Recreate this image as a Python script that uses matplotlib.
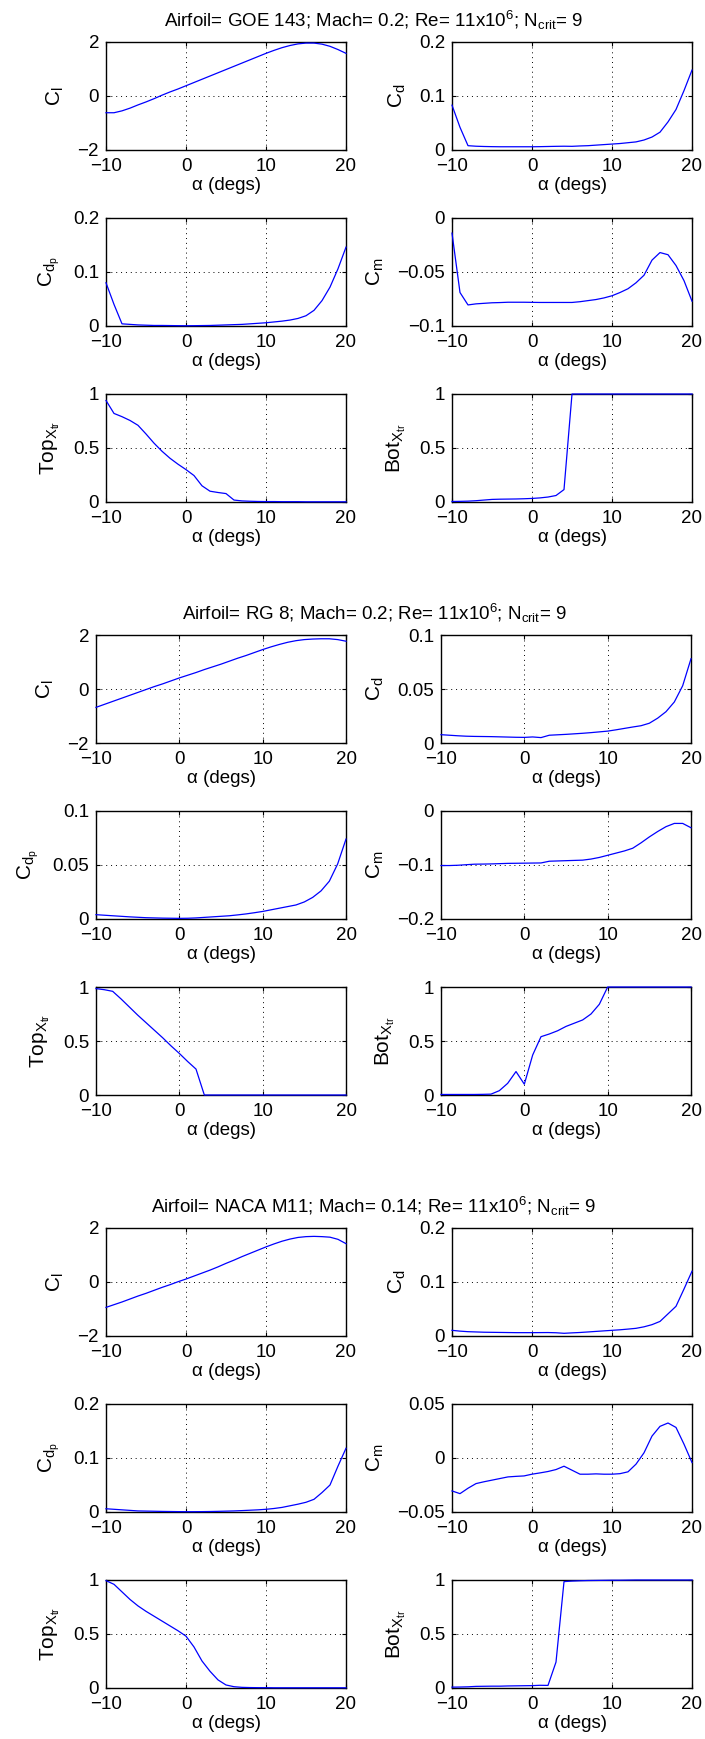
import numpy as np
import matplotlib
matplotlib.use("Agg")
import matplotlib.pyplot as plt
from matplotlib.ticker import FuncFormatter

plt.rcParams['font.family'] = ['Liberation Sans', 'DejaVu Sans']
plt.rcParams['mathtext.fontset'] = 'custom'
plt.rcParams['mathtext.rm'] = 'Liberation Sans'
plt.rcParams['mathtext.it'] = 'Liberation Sans:italic'

alpha = list(range(-10, 21))

# ---- GOE 143 ----
goe_title = r'Airfoil= GOE 143; Mach= 0.2; Re= 11x10$^6$; N$_{\mathrm{crit}}$= 9'
goe_cl = [-0.62, -0.62, -0.55, -0.45, -0.33, -0.22, -0.10, 0.03, 0.15, 0.26, 0.38,
          0.50, 0.62, 0.74, 0.86, 0.98, 1.10, 1.22, 1.34, 1.46, 1.58,
          1.69, 1.79, 1.87, 1.93, 1.96, 1.96, 1.92, 1.84, 1.72, 1.58]
goe_cd = [0.083, 0.042, 0.008, 0.007, 0.0065, 0.0062, 0.006, 0.006, 0.006, 0.006, 0.006,
          0.0062, 0.0065, 0.0068, 0.007, 0.0068, 0.0075, 0.008, 0.009, 0.010, 0.011,
          0.012, 0.0135, 0.015, 0.0185, 0.024, 0.033, 0.052, 0.075, 0.110, 0.148]
goe_cdp = [0.080, 0.040, 0.004, 0.003, 0.002, 0.0015, 0.001, 0.001, 0.0008, 0.0006, 0.0005,
           0.0006, 0.0008, 0.001, 0.0015, 0.002, 0.0025, 0.003, 0.004, 0.005, 0.006,
           0.0075, 0.009, 0.011, 0.014, 0.019, 0.029, 0.047, 0.072, 0.106, 0.146]
goe_cm = [-0.014, -0.069, -0.0805, -0.0795, -0.079, -0.0785, -0.0783, -0.078, -0.078, -0.078, -0.0781,
          -0.0782, -0.0782, -0.0782, -0.0782, -0.0782, -0.0775, -0.0765, -0.0755, -0.074, -0.072,
          -0.069, -0.0655, -0.060, -0.053, -0.039, -0.032, -0.034, -0.044, -0.058, -0.077]
goe_top = [0.94, 0.82, 0.79, 0.755, 0.71, 0.63, 0.545, 0.47, 0.405, 0.35, 0.30,
           0.245, 0.15, 0.10, 0.088, 0.078, 0.018, 0.01, 0.007, 0.005, 0.004,
           0.004, 0.003, 0.003, 0.003, 0.002, 0.002, 0.002, 0.002, 0.002, 0.002]
goe_bot = [0.005, 0.006, 0.008, 0.012, 0.018, 0.024, 0.026, 0.027, 0.028, 0.03, 0.033,
           0.038, 0.046, 0.06, 0.115, 1, 1, 1, 1, 1, 1,
           1, 1, 1, 1, 1, 1, 1, 1, 1, 1]

# ---- RG 8 ----
rg_title = r'Airfoil= RG 8; Mach= 0.2; Re= 11x10$^6$; N$_{\mathrm{crit}}$= 9'
rg_cl = [-0.68, -0.57, -0.46, -0.35, -0.24, -0.13, -0.02, 0.09, 0.19, 0.30, 0.41,
         0.51, 0.61, 0.72, 0.82, 0.92, 1.03, 1.14, 1.24, 1.35, 1.46,
         1.56, 1.65, 1.73, 1.79, 1.83, 1.85, 1.86, 1.86, 1.83, 1.77]
rg_cd = [0.0077, 0.0072, 0.0067, 0.0063, 0.0061, 0.006, 0.0059, 0.0057, 0.0055, 0.0053, 0.0052,
         0.0056, 0.0050, 0.0072, 0.0076, 0.0080, 0.0085, 0.009, 0.0096, 0.0103, 0.011,
         0.0122, 0.0135, 0.0148, 0.016, 0.0183, 0.023, 0.029, 0.038, 0.053, 0.078]
rg_cdp = [0.004, 0.0035, 0.003, 0.0025, 0.002, 0.0016, 0.0012, 0.001, 0.0008, 0.0007, 0.0006,
          0.0007, 0.001, 0.0015, 0.002, 0.0025, 0.003, 0.0038, 0.0047, 0.0058, 0.007,
          0.0085, 0.010, 0.0115, 0.013, 0.0158, 0.020, 0.026, 0.035, 0.051, 0.074]
rg_cm = [-0.101, -0.101, -0.1005, -0.0995, -0.0985, -0.0983, -0.098, -0.0975, -0.097, -0.0968, -0.0966,
         -0.0964, -0.0962, -0.093, -0.0925, -0.092, -0.0915, -0.091, -0.089, -0.086, -0.082,
         -0.078, -0.074, -0.069, -0.059, -0.048, -0.038, -0.029, -0.023, -0.023, -0.031]
rg_top = [0.985, 0.975, 0.96, 0.89, 0.815, 0.74, 0.67, 0.60, 0.53, 0.455, 0.385,
          0.31, 0.24, 0, 0, 0, 0, 0, 0, 0, 0,
          0, 0, 0, 0, 0, 0, 0, 0, 0, 0]
rg_bot = [0.005, 0.005, 0.005, 0.005, 0.005, 0.006, 0.008, 0.04, 0.108, 0.217, 0.10,
          0.37, 0.54, 0.565, 0.595, 0.635, 0.665, 0.695, 0.75, 0.84, 1.0,
          1, 1, 1, 1, 1, 1, 1, 1, 1, 1]

# ---- NACA M11 ----
m11_title = r'Airfoil= NACA M11; Mach= 0.14; Re= 11x10$^6$; N$_{\mathrm{crit}}$= 9'
m11_cl = [-0.94, -0.84, -0.74, -0.63, -0.52, -0.42, -0.31, -0.20, -0.10, 0.01, 0.11,
          0.22, 0.33, 0.44, 0.56, 0.69, 0.81, 0.94, 1.06, 1.18, 1.30,
          1.41, 1.51, 1.59, 1.65, 1.68, 1.69, 1.68, 1.66, 1.58, 1.42]
m11_cd = [0.0105, 0.009, 0.008, 0.0075, 0.007, 0.0068, 0.0066, 0.0064, 0.0062, 0.0062, 0.0062,
          0.0063, 0.0064, 0.006, 0.005, 0.0058, 0.0065, 0.0075, 0.0085, 0.0095, 0.0105,
          0.0115, 0.0128, 0.0142, 0.017, 0.021, 0.027, 0.041, 0.055, 0.087, 0.12]
m11_cdp = [0.006, 0.005, 0.004, 0.003, 0.002, 0.0017, 0.0014, 0.0011, 0.0009, 0.0007, 0.0006,
           0.0006, 0.0007, 0.0009, 0.0012, 0.0016, 0.002, 0.0026, 0.0033, 0.004, 0.005,
           0.0065, 0.0085, 0.0115, 0.0145, 0.018, 0.0235, 0.036, 0.05, 0.085, 0.118]
m11_cm = [-0.0305, -0.033, -0.028, -0.0237, -0.022, -0.0205, -0.019, -0.0175, -0.017, -0.0166, -0.015,
          -0.0138, -0.0125, -0.0107, -0.0076, -0.0113, -0.015, -0.015, -0.0147, -0.015, -0.015,
          -0.0145, -0.0128, -0.0057, 0.0048, 0.0203, 0.0293, 0.0324, 0.0283, 0.0128, -0.0042]
m11_top = [0.994, 0.96, 0.89, 0.82, 0.76, 0.71, 0.665, 0.62, 0.575, 0.53, 0.48,
           0.38, 0.25, 0.155, 0.075, 0.028, 0.012, 0.006, 0.004, 0.003, 0.003,
           0.002, 0.002, 0.002, 0.002, 0.002, 0.002, 0.002, 0.002, 0.002, 0.002]
m11_bot = [0.008, 0.009, 0.011, 0.015, 0.016, 0.017, 0.017, 0.019, 0.020, 0.021, 0.022,
           0.025, 0.024, 0.24, 0.985, 0.99, 0.993, 0.995, 0.996, 0.997, 0.998,
           0.998, 0.999, 1, 1, 1, 1, 1, 1, 1, 1]

ylabels = [r'$\mathrm{C_l}$', r'$\mathrm{C_d}$', r'$\mathrm{C_{d_p}}$', r'$\mathrm{C_m}$',
           r'$\mathrm{Top_{X_{tr}}}$', r'$\mathrm{Bot_{X_{tr}}}$']

blocks = [
    (goe_title, [goe_cl, goe_cd, goe_cdp, goe_cm, goe_top, goe_bot],
     [(-2, 2), (0, 0.2), (0, 0.2), (-0.1, 0), (0, 1), (0, 1)], (106, 452, 240)),
    (rg_title, [rg_cl, rg_cd, rg_cdp, rg_cm, rg_top, rg_bot],
     [(-2, 2), (0, 0.1), (0, 0.1), (-0.2, 0), (0, 1), (0, 1)], (96, 441, 250)),
    (m11_title, [m11_cl, m11_cd, m11_cdp, m11_cm, m11_top, m11_bot],
     [(-2, 2), (0, 0.2), (0, 0.2), (-0.05, 0.05), (0, 1), (0, 1)], (106, 452, 240)),
]

W, H = 705, 1739
fig = plt.figure(figsize=(W / 100, H / 100), dpi=100)

fmt = FuncFormatter(lambda v, p: ('%g' % round(v, 6)).replace('-', '\u2212'))

for k, (title, series, lims, (xl, xr, w)) in enumerate(blocks):
    off = 593 * k
    fig.text(374 / W, 1 - (27 + off) / H, title, ha='center', va='baseline', fontsize=13.5)
    for i in range(6):
        row, col = i // 2, i % 2
        top = 42 + 176 * row + off
        left = xl if col == 0 else xr
        ax = fig.add_axes([left / W, 1 - (top + 108) / H, w / W, 108 / H])
        ax.plot(alpha, series[i], color='blue', lw=0.9, zorder=3, clip_on=False)
        lo, hi = lims[i]
        ax.set_xlim(-10, 20)
        ax.set_ylim(lo, hi)
        ax.set_xticks([-10, 0, 10, 20])
        ax.set_yticks([lo, (lo + hi) / 2, hi])
        ax.xaxis.set_major_formatter(fmt)
        ax.yaxis.set_major_formatter(fmt)
        ax.grid(True, color='black', linestyle=(0, (1, 4)), linewidth=0.7)
        ax.tick_params(direction='in', top=True, right=True, length=3, width=0.8,
                       labelsize=13.5)
        ax.tick_params(axis='x', pad=6)
        ax.tick_params(axis='y', pad=5)
        for s in ax.spines.values():
            s.set_linewidth(1.0)
        ax.set_xlabel('\u03b1 (degs)', fontsize=13.5, labelpad=1)
        ax.set_ylabel(ylabels[i], fontsize=15, labelpad=8)

fig.savefig('out.png', dpi=100)
